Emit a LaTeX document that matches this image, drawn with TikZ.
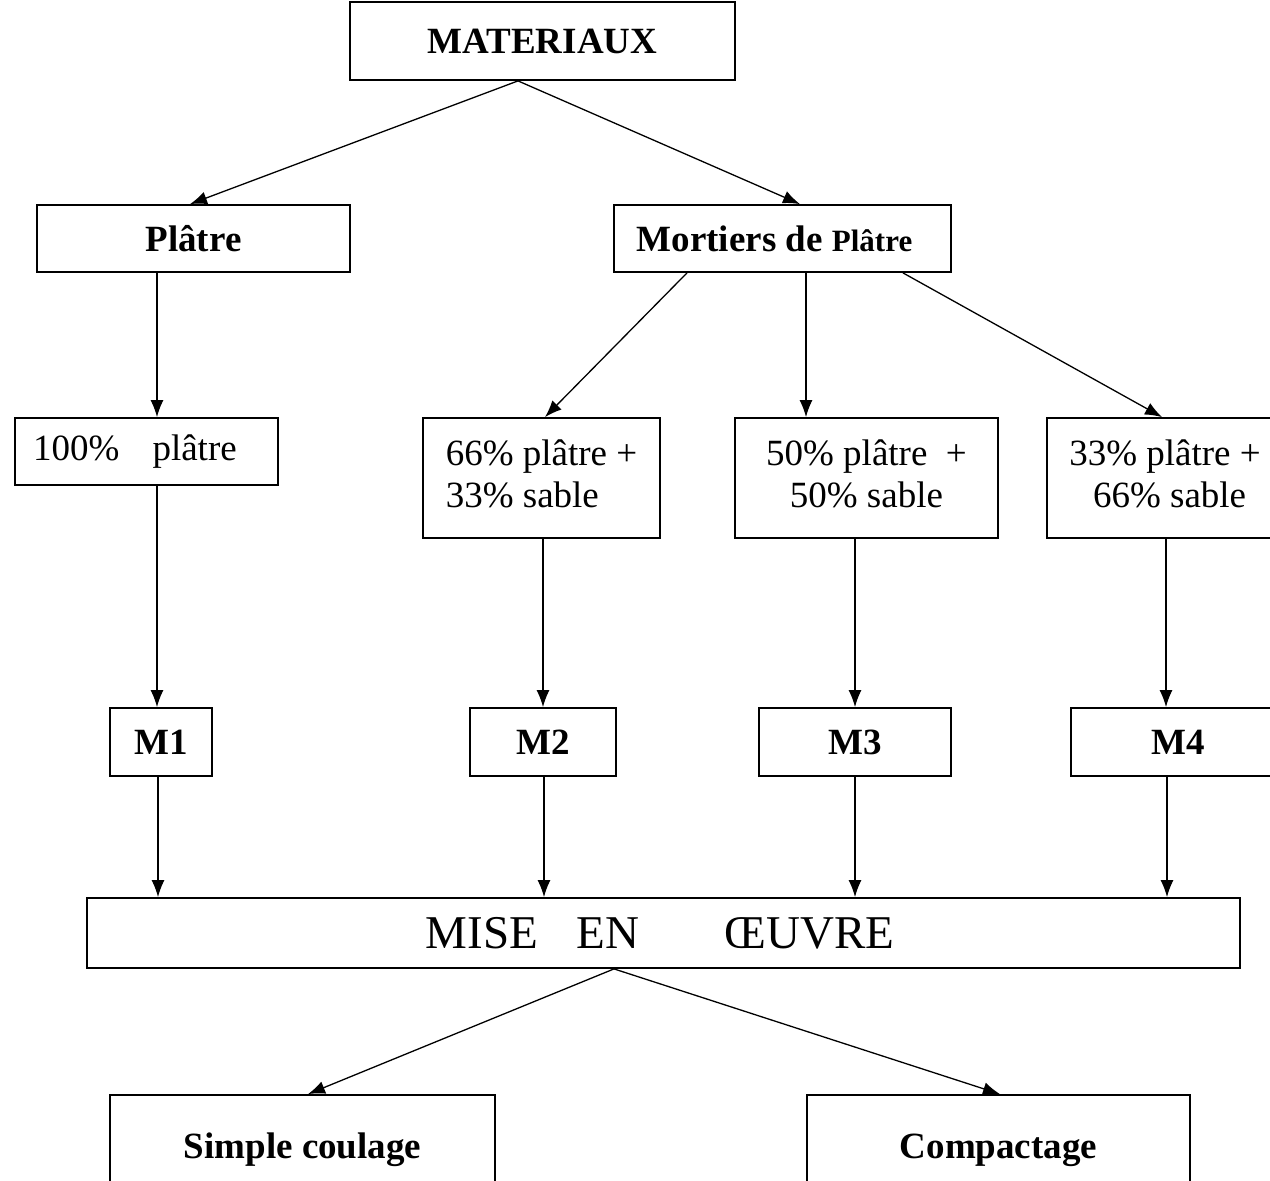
\documentclass[tikz,border=0pt]{standalone}
\usepackage{fontspec}
\setmainfont{Liberation Serif}
\usetikzlibrary{arrows.meta}
\tikzset{
	boite/.style={draw, line width=1.8pt, inner sep=0pt, font=\fontsize{37}{42}\selectfont},
	fleche/.style={line width=1.3pt, -{Latex[length=17pt,width=13pt]}}
}

\begin{document}
\begin{tikzpicture}[x=1pt, y=-1pt]
			%%%%% START %%%%%
			
			\useasboundingbox (0, 0) rectangle (1270, 1181);
			\clip (0, 0) rectangle (1270, 1181);
			
			\node[boite, minimum width=385, minimum height=78] (mat) at (542.5, 41) {\textbf{MATERIAUX}};
			
			\node[boite, minimum width=313, minimum height=67] (plat) at (193.5, 238.5) {\textbf{Plâtre}};
			\node[boite, minimum width=337, minimum height=67] (mort) at (782.5, 238.5) {\textbf{Mortiers de {\fontsize{31}{36}\selectfont Plâtre}}\hspace{16pt}\null};
			
			\node[boite, minimum width=263, minimum height=67] (pa) at (146.5, 451.5) {100\%\hspace{33pt}plâtre\hspace{23pt}\null};
			\node[boite, minimum width=237, minimum height=120, align=left] (pb) at (541.5, 478) {\raisebox{4pt}{\begin{tabular}{@{}l@{}}66\% plâtre +\\33\% sable\end{tabular}}};
			\node[boite, minimum width=263, minimum height=120, align=center] (pc) at (866.5, 478) {\raisebox{4pt}{\begin{tabular}{@{}c@{}}50\% plâtre\ \ +\\50\% sable\end{tabular}}};
			\node[boite, minimum width=236, minimum height=120, align=center] (pd) at (1165, 478) {\raisebox{4pt}{\begin{tabular}{@{}c@{}}33\% plâtre +\\\ 66\% sable\end{tabular}}};
			
			\node[boite, minimum width=102, minimum height=68] (ma) at (161, 742) {\textbf{M1}};
			\node[boite, minimum width=146, minimum height=68] (mb) at (543, 742) {\textbf{M2}};
			\node[boite, minimum width=192, minimum height=68] (mc) at (855, 742) {\textbf{M3}};
			\node[boite, minimum width=214, minimum height=68] (md) at (1178, 742) {\textbf{M4}};
			
			\node[boite, minimum width=1153, minimum height=70, font=\fontsize{47}{54}\selectfont] (mise) at (663.5, 933) {MISE\hspace{39pt}EN\hspace{85pt}ŒUVRE\hspace{7pt}\null};
			
			\node[boite, minimum width=385, minimum height=110] (sc) at (302.5, 1150) {\textbf{Simple coulage}};
			\node[boite, minimum width=383, minimum height=110] (cp) at (998.5, 1150) {\textbf{Compactage}};
			
			% fleches
			\draw[fleche] ([xshift=-24.5]mat.south) -- ([xshift=-3.5]plat.north);
			\draw[fleche] ([xshift=-24.5]mat.south) -- ([xshift=17.5]mort.north);
			
			\draw[fleche] ([xshift=-36.5]plat.south) -- ([xshift=10.5]pa.north);
			\draw[fleche] ([xshift=-95.5]mort.south) -- ([xshift=3.5]pb.north);
			\draw[fleche] ([xshift=23.5]mort.south) -- ([xshift=-60.5]pc.north);
			\draw[fleche] ([xshift=120.5]mort.south) -- ([xshift=-3]pd.north);
			
			\draw[fleche] ([xshift=10.5]pa.south) -- ([xshift=-4]ma.north);
			\draw[fleche] ([xshift=1.5]pb.south) -- (mb.north);
			\draw[fleche] ([xshift=-11.5]pc.south) -- (mc.north);
			\draw[fleche] ([xshift=1]pd.south) -- ([xshift=-12]md.north);
			
			\draw[fleche] ([xshift=-3]ma.south) -- ([xshift=-505.5]mise.north);
			\draw[fleche] ([xshift=1]mb.south) -- ([xshift=-119.5]mise.north);
			\draw[fleche] (mc.south) -- ([xshift=191.5]mise.north);
			\draw[fleche] ([xshift=-11]md.south) -- ([xshift=503.5]mise.north);
			
			\draw[fleche] ([xshift=-49.5]mise.south) -- ([xshift=5.5]sc.north);
			\draw[fleche] ([xshift=-49.5]mise.south) -- ([xshift=1.5]cp.north);
			
			%%%%% END %%%%%
\end{tikzpicture}
\end{document}
